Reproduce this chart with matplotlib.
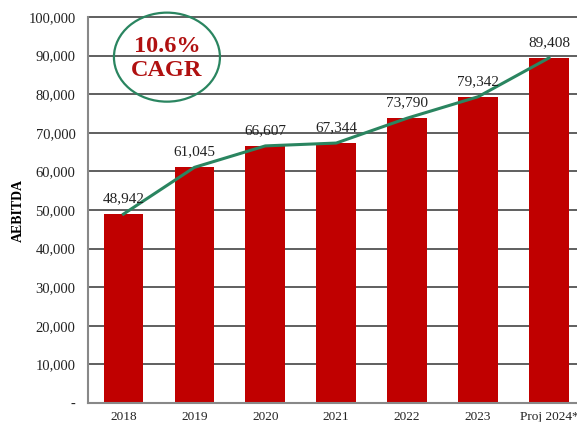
import matplotlib
matplotlib.use("Agg")
import matplotlib.pyplot as plt
from matplotlib.patches import Ellipse
from matplotlib.ticker import FuncFormatter

years = ["2018", "2019", "2020", "2021", "2022", "2023", "Proj 2024*"]
aebitda = [48942, 61045, 66607, 67344, 73790, 79342, 89408]
cagr_text = "10.6%\nCAGR"

plt.rcParams['font.family'] = ['Liberation Serif', 'DejaVu Serif']

fig = plt.figure(figsize=(5.77, 4.22), dpi=100)
ax = fig.add_axes([88 / 577, 19 / 422, 496.5 / 577, 386 / 422])

x = list(range(len(years)))
ax.bar(x, aebitda, width=0.56, color="#C00000", zorder=2)
ax.plot(x, aebitda, color="#2A8560", lw=2.2, zorder=3)

# value labels above bars
for xi, v in zip(x, aebitda):
    ax.text(xi, v + 2300, f"{v:,}", ha="center", va="bottom", fontsize=11, color="#222222")

ax.set_xlim(-0.5, 6.5)
ax.set_ylim(0, 100000)
ax.set_yticks(range(0, 100001, 10000))
ax.yaxis.set_major_formatter(FuncFormatter(lambda v, p: f"{v:,.0f}" if v > 0 else "-"))
ax.set_xticks(x)
ax.set_xticklabels(years)
ax.tick_params(axis="y", length=0, labelsize=10.5, colors="#222222", pad=9)
ax.tick_params(axis="x", length=0, labelsize=9.5, colors="#222222", pad=6)
ax.grid(axis="y", color="#444444", lw=1.2, zorder=0)
for gl in ax.get_ygridlines():
    gl.set_clip_on(False)
ax.set_axisbelow(True)
for s in ["top", "right"]:
    ax.spines[s].set_visible(False)
ax.spines["left"].set_color("#888888")
ax.spines["bottom"].set_color("#888888")
ax.spines["left"].set_linewidth(1.5)
ax.spines["bottom"].set_linewidth(1.5)

ax.set_ylabel("AEBITDA", fontsize=10, fontweight="bold")
ax.yaxis.set_label_coords(-0.128, 0.5)

ell = Ellipse((0.159, 0.896), 0.2135, 0.2306, transform=ax.transAxes,
              fill=False, edgecolor="#2A8560", lw=1.6, zorder=4, clip_on=False)
ax.add_patch(ell)
ax.text(0.159, 0.893, cagr_text, transform=ax.transAxes, ha="center", va="center",
        fontsize=17.5, fontweight="bold", color="#B01010", linespacing=1.15, zorder=5)

fig.savefig("out.png", dpi=100)
